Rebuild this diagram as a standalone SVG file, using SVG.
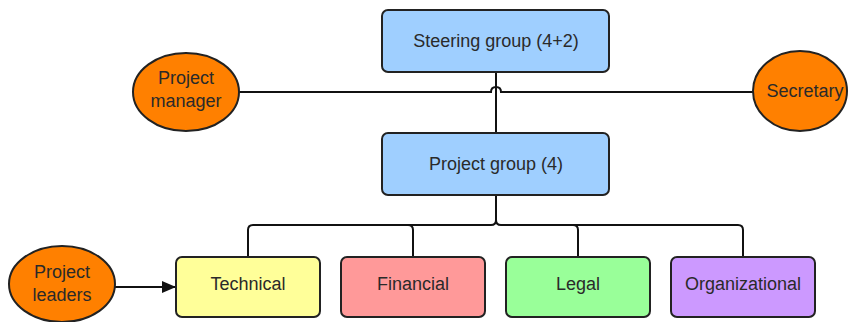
<svg xmlns="http://www.w3.org/2000/svg" width="849" height="322" viewBox="0 0 849 322">
<defs>
<style>
.box{stroke:#222;stroke-width:2}
.ell{fill:#ff8000;stroke:#222;stroke-width:2}
.t{font-family:"Liberation Sans",Arial,sans-serif;font-size:18px;fill:#2a2a2a;text-anchor:middle}
.c{fill:none;stroke:#111;stroke-width:2}
</style>
<marker id="arr" markerWidth="14" markerHeight="12" refX="13" refY="6" orient="auto" markerUnits="userSpaceOnUse" viewBox="0 0 14 12">
<path d="M0,0 L14,6 L0,12 z" fill="#111"/>
</marker>
</defs>
<rect width="849" height="322" fill="#fff"/>
<g id="connectors">
<path class="c" d="M239,92 H491 Q491,87 496,87 Q501,87 501,92 H753"/>
<path class="c" d="M496,72 V133"/>
<path class="c" d="M496,195 V220 Q496,225 491,225 H253 Q248,225 248,230 V257"/>
<path class="c" d="M496,220 Q496,225 501,225 H738 Q743,225 743,230 V257"/>
<path class="c" d="M408,225 Q413,225 413,230 V257"/>
<path class="c" d="M573,225 Q578,225 578,230 V257"/>
<path class="c" d="M115,287 H175" marker-end="url(#arr)"/>
</g>
<g id="steering">
<rect class="box" x="382" y="10" width="227" height="62" rx="6" fill="#9fcfff"/>
<text class="t" x="496" y="47">Steering group (4+2)</text>
</g>
<g id="project-group">
<rect class="box" x="382" y="133" width="227" height="62" rx="6" fill="#9fcfff"/>
<text class="t" x="496" y="170">Project group (4)</text>
</g>
<g id="project-manager">
<ellipse class="ell" cx="186" cy="92" rx="53" ry="39"/>
<text class="t" x="186" y="84">Project</text>
<text class="t" x="186" y="107">manager</text>
</g>
<g id="secretary">
<ellipse class="ell" cx="800" cy="91" rx="47" ry="40"/>
<text class="t" x="805" y="97">Secretary</text>
</g>
<g id="project-leaders">
<ellipse class="ell" cx="62" cy="284" rx="53" ry="38"/>
<text class="t" x="62" y="278">Project</text>
<text class="t" x="62" y="301">leaders</text>
</g>
<g id="technical">
<rect class="box" x="176" y="257" width="144" height="60" rx="6" fill="#ffff99"/>
<text class="t" x="248" y="290">Technical</text>
</g>
<g id="financial">
<rect class="box" x="341" y="257" width="144" height="60" rx="6" fill="#ff9999"/>
<text class="t" x="413" y="290">Financial</text>
</g>
<g id="legal">
<rect class="box" x="506" y="257" width="144" height="60" rx="6" fill="#99ff99"/>
<text class="t" x="578" y="290">Legal</text>
</g>
<g id="organizational">
<rect class="box" x="671" y="257" width="144" height="60" rx="6" fill="#cc99ff"/>
<text class="t" x="743" y="290">Organizational</text>
</g>
</svg>
